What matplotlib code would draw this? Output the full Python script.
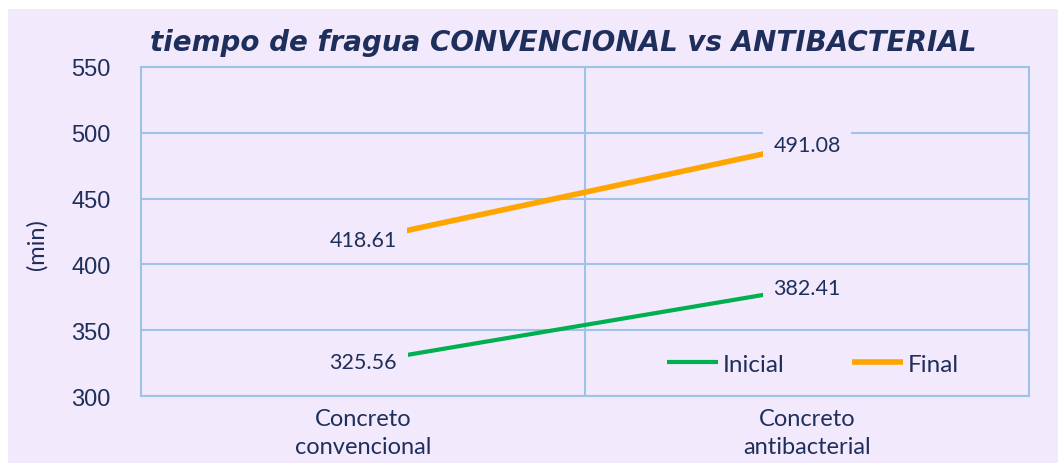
import matplotlib.pyplot as plt
from matplotlib.patches import Rectangle

# Data
categories = ["Concreto\nconvencional", "Concreto\nantibacterial"]
inicial = [325.56, 382.41]
final = [418.61, 491.08]
y_ticks = [300, 350, 400, 450, 500, 550]

navy = "#1F2F5C"
grid_col = "#9DC3E6"
panel = "#F3E9FC"

fig = plt.figure(figsize=(10.59, 4.64), dpi=100)
fig.patch.set_facecolor("white")

# lavender chart area (behind everything)
fig.patches.append(Rectangle((8 / 1059, 0), 1050 / 1059, 1 - 10 / 464,
                             transform=fig.transFigure, facecolor=panel,
                             edgecolor="none", zorder=-10))

ax = fig.add_axes([141 / 1059, 1 - 397 / 464, 888 / 1059, 329 / 464])
ax.set_facecolor(panel)

x = list(range(len(categories)))
ax.plot(x, inicial, color="#00B050", lw=3, label="Inicial", zorder=3,
        solid_capstyle="butt")
ax.plot(x, final, color="#FFA500", lw=4, label="Final", zorder=3,
        solid_capstyle="butt")

# data labels
for xs, ys in [(x, inicial), (x, final)]:
    for xi, yi in zip(xs, ys):
        ax.text(xi, yi, f"{yi:.2f}", ha="center", va="center", fontsize=15.5,
                family="Lato", color=navy, zorder=5,
                bbox=dict(boxstyle="square,pad=0.5", facecolor=panel,
                          edgecolor="none"))

ax.set_xlim(-0.5, 1.5)
ax.set_ylim(300, 550)
ax.set_yticks(y_ticks)
ax.set_xticks(x)
ax.set_xticklabels(categories, fontsize=17, family="Lato", color=navy,
                   linespacing=1.4)
ax.set_xticks([0.5], minor=True)
ax.tick_params(axis="both", length=0, which="both")
ax.tick_params(axis="y", labelsize=17, labelcolor=navy, pad=22)
for lab in ax.get_yticklabels():
    lab.set_family("Liberation Sans")
ax.tick_params(axis="x", pad=9)

ax.grid(axis="y", color=grid_col, lw=1.5, zorder=1)
ax.grid(axis="x", which="minor", color=grid_col, lw=1.5, zorder=1)
for s in ax.spines.values():
    s.set_color(grid_col)
    s.set_linewidth(1.5)

ax.set_ylabel("(min)", fontsize=17, family="Lato", color=navy)
ax.yaxis.set_label_coords(-0.105, 0.462)

fig.text(150 / 1059, 1 - 43 / 464,
         "tiempo de fragua CONVENCIONAL vs ANTIBACTERIAL",
         fontsize=20, family="DejaVu Sans", style="oblique", weight="bold",
         color=navy, ha="left", va="center")

fig.legend(loc="center", bbox_to_anchor=(813 / 1059, 1 - 365 / 464),
           ncol=2, frameon=False, prop={"family": "Lato", "size": 17.5},
           handlelength=2.1, handletextpad=0.2, columnspacing=2.8,
           labelcolor=navy)

fig.savefig("out.png", dpi=100)
